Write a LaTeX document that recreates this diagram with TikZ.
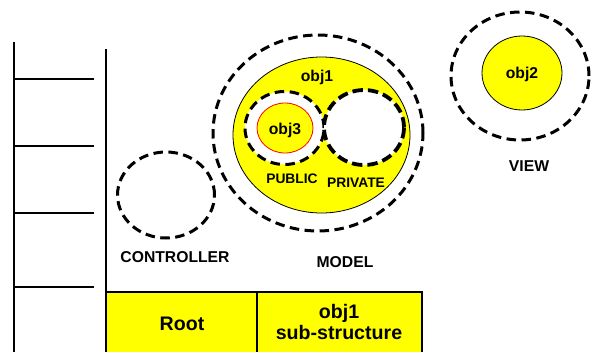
\documentclass[tikz,border=0pt]{standalone}
\usepackage{fontspec}
\setmainfont{Liberation Sans}
\usetikzlibrary{shapes.geometric}
\definecolor{objyellow}{RGB}{255,255,0}
\tikzset{
  scopering/.style={draw, shape=ellipse, inner sep=0pt, line width=3pt,
    dash pattern=on 9.5pt off 5.5pt},
  objfill/.style={draw, shape=ellipse, inner sep=0pt, fill=objyellow, line width=0.8pt},
  lbl/.style={font=\bfseries\fontsize{15.7}{18}\selectfont, inner sep=0pt},
  smalllbl/.style={font=\bfseries\fontsize{13.8}{16}\selectfont, inner sep=0pt},
  biglbl/.style={font=\bfseries\fontsize{19.6}{22}\selectfont, inner sep=0pt, align=center},
  thick line/.style={line width=2.8pt},
}
\begin{document}
\begin{tikzpicture}[x=1pt, y=-1pt]
\useasboundingbox (0,0) rectangle (592,351);

% stack ladder on the left
\draw[thick line] (14,42) -- (14,352);
\foreach \yy in {79,146,213,287} \draw[thick line] (14,\yy) -- (94,\yy);

% frame line and bottom table
\fill[objyellow] (106,292) rectangle (422,352);
\draw[thick line] (106,49) -- (106,352);
\draw[thick line] (106,292) -- (422,292) -- (422,352);
\draw[thick line] (257,292) -- (257,352);
\node[biglbl] (root) at (182,324) {Root};
\node[biglbl] (sub) at (339,322) {obj1\\[-1pt]sub-structure};

% controller
\node[scopering, minimum width=97pt, minimum height=86pt] (ctrl) at (166,195) {};
\node[lbl] (ctrllbl) at (175,257) {CONTROLLER};

% model
\node[scopering, minimum width=210pt, minimum height=196pt] (model) at (318,133) {};
\node[objfill, minimum width=177pt, minimum height=156pt] (obj1) at (321.5,135) {};
\node[lbl] (obj1lbl) at (317,77) {obj1};
\node[scopering, fill=white, minimum width=79pt, minimum height=73pt] (public) at (284.5,128) {};
\node[draw=red, shape=ellipse, inner sep=0pt, fill=objyellow, line width=0.8pt,
  minimum width=56pt, minimum height=50pt] (obj3) at (285,128) {};
\node[lbl] (obj3lbl) at (285,130) {obj3};
\node[scopering, fill=white, line width=3.8pt, dash pattern=on 10.5pt off 5pt,
  minimum width=80pt, minimum height=75pt] (private) at (364,127.5) {};
\node[smalllbl] (publbl) at (292,179) {PUBLIC};
\node[smalllbl] (privlbl) at (356,183) {PRIVATE};
\node[lbl] (modellbl) at (345,262) {MODEL};

% view
\node[scopering, minimum width=138pt, minimum height=128pt] (view) at (520,76) {};
\node[objfill, minimum width=80pt, minimum height=74pt] (obj2) at (522,73) {};
\node[lbl] (obj2lbl) at (522,74) {obj2};
\node[lbl] (viewlbl) at (529,166) {VIEW};
\end{tikzpicture}
\end{document}
